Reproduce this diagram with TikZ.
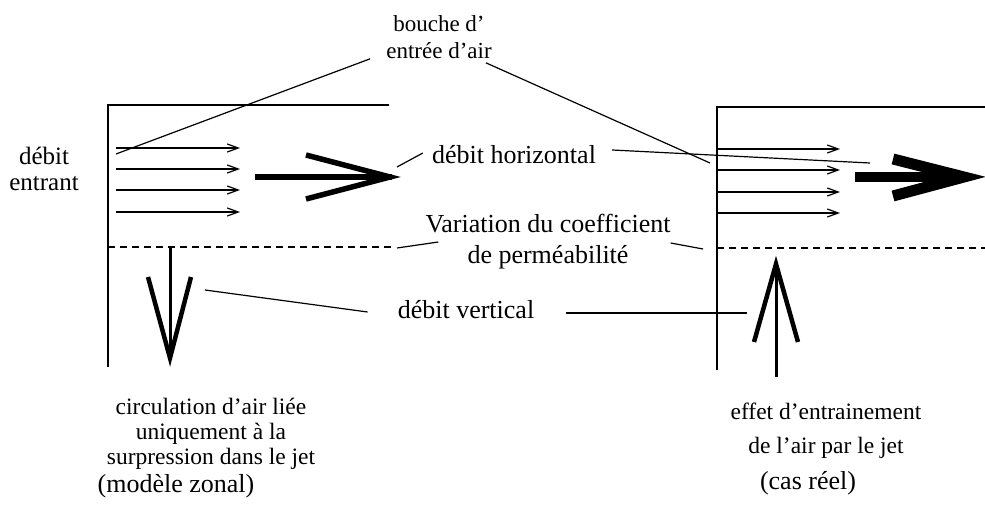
\documentclass[tikz,border=0pt]{standalone}
\usepackage{fontspec}
\setmainfont{Liberation Serif}
\usetikzlibrary{arrows.meta,calc}
\tikzset{
	lbl/.style={inner sep=0pt,align=center,font=\fontsize{26}{31}\selectfont}
}
\tikzset{
	smalllbl/.style={inner sep=0pt,align=center,font=\fontsize{23}{27}\selectfont}
}
\tikzset{
	wall/.style={line width=1.3pt},
	inlet/.style={line width=2.6pt},
	flow/.style={line width=1.2pt},
	zone/.style={line width=1.2pt,dash pattern=on 7pt off 5pt},
	leader/.style={line width=1.2pt},
	head/.style={line join=miter,miter limit=10}
}

\begin{document}
\begin{tikzpicture}[x=1pt,y=-1pt,>={Straight Barb[length=11pt,width=8pt]}]
      \useasboundingbox (0,0) rectangle (985,516);
      \draw[wall] (108,367) -- (108,105) -- (389,105);
      \draw[wall] (717,370) -- (717,107) -- (985,107);
      \draw[inlet] (108,140) -- (108,225);
      \draw[inlet] (717,137) -- (717,215);
      \foreach \y in {148,169,190,212} \draw[flow,->] (116,\y) -- (240,\y);
      \foreach \y in {149,170,192,213} \draw[flow,->] (717,\y) -- (840,\y);
      \draw[zone] (108,247) -- (393,247);
      \draw[zone] (717,248) -- (985,248);
      \draw[line width=6pt] (255,177) -- (392,177);
      \draw[head,line width=5.5pt] (306,155) -- (390,177) -- (306,199);
      \draw[line width=10pt] (855,177) -- (960,177);
      \draw[head,line width=11pt] (893,159) -- (964,177) -- (893,196);
      \draw[line width=3pt] (170,248) -- (170,360);
      \draw[head,line width=4.5pt] (148,277) -- (170,358) -- (191,277);
      \draw[line width=3pt] (776,377) -- (776,262);
      \draw[head,line width=4.5pt] (754,342) -- (776,264) -- (798,342);
      \coordinate (inL) at (116,154);
      \coordinate (inR) at (710,163);
      \coordinate (jetL) at (397,167);
      \coordinate (jetR) at (870,163);
      \coordinate (permL) at (397,248);
      \coordinate (permR) at (703,249);
      \coordinate (downA) at (205,290);
      \coordinate (upA) at (747,313);
      \node[lbl,font=\fontsize{25}{26}\selectfont] (entrant) at (44,169) {débit\\entrant};
      \node[smalllbl] (bouche) at (439,37) {bouche d'\\entrée d'air};
      \node[lbl] (horiz) at (514,155) {débit horizontal};
      \node[lbl] (perm) at (548,242) {Variation du coefficient\\de perméabilité};
      \node[lbl] (vert) at (466,310) {débit vertical};
      \node[smalllbl,font=\fontsize{23.5}{25}\selectfont] (circul) at (211,434) {circulation d'air liée\\uniquement à la\\surpression dans le jet};
      \node[lbl] (zonal) at (176,486) {(modèle zonal)};
      \node[smalllbl,font=\fontsize{23.5}{34}\selectfont] (effet) at (826,431) {effet d'entrainement\\de l'air par le jet};
      \node[lbl] (reel) at (808,483) {(cas réel)};
      \draw[leader] ($(bouche.south west)+(-16,0)$) -- (inL);
      \draw[leader] ($(bouche.south east)+(-6,4)$) -- (inR);
      \draw[leader] ($(horiz.west)+(-9,-2)$) -- (jetL);
      \draw[leader] ($(horiz.east)+(16,-5)$) -- (jetR);
      \draw[leader] ($(perm.west)+(13,0)$) -- (permL);
      \draw[leader] ($(perm.east)+(0,1)$) -- (permR);
      \draw[leader] ($(vert.west)+(-30,2)$) -- (downA);
      \draw[leader] ($(vert.east)+(32,3)$) -- (upA);
    \end{tikzpicture}
\end{document}
